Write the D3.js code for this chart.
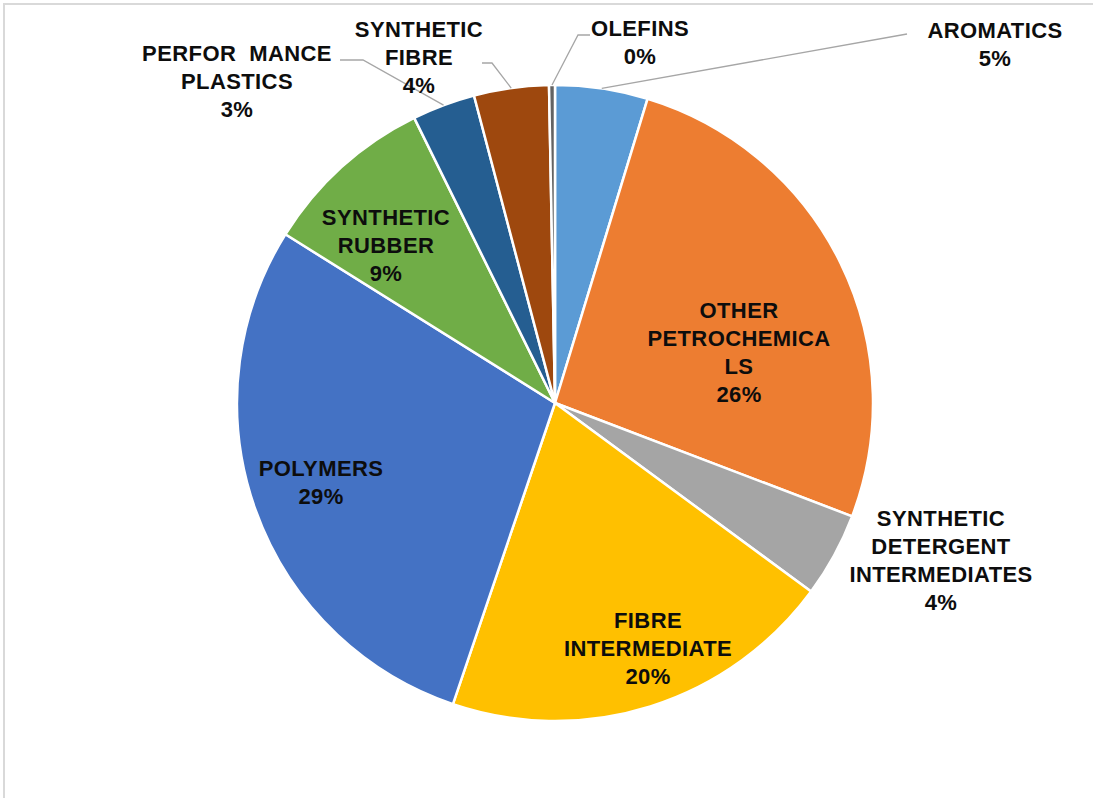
<!DOCTYPE html>
<html>
<head>
<meta charset="utf-8">
<script src="https://cdn.jsdelivr.net/npm/d3@7"></script>
<style>
  body { margin: 0; background: #fff; }
  svg text { font-family: "Liberation Sans", Arial, sans-serif; font-weight: bold; font-size: 22px; fill: #0d0d0d; }
</style>
</head>
<body>
<div id="chart"></div>
<script>
// share of petrochemical production, clockwise from 12 o'clock
const categories = ["AROMATICS", "OTHER PETROCHEMICALS", "SYNTHETIC DETERGENT INTERMEDIATES",
  "FIBRE INTERMEDIATE", "POLYMERS", "SYNTHETIC RUBBER", "PERFORMANCE PLASTICS",
  "SYNTHETIC FIBRE", "OLEFINS"];
const values = [4.7, 26.1, 4.3, 20.1, 28.7, 8.8, 3.2, 3.8, 0.3];
const percentLabels = ["5%", "26%", "4%", "20%", "29%", "9%", "3%", "4%", "0%"];
// label text as wrapped in the original
const labelLines = [
  ["AROMATICS"],
  ["OTHER", "PETROCHEMICA", "LS"],
  ["SYNTHETIC", "DETERGENT", "INTERMEDIATES"],
  ["FIBRE", "INTERMEDIATE"],
  ["POLYMERS"],
  ["SYNTHETIC", "RUBBER"],
  ["PERFOR  MANCE", "PLASTICS"],
  ["SYNTHETIC", "FIBRE"],
  ["OLEFINS"]
];

const colors = ["#5b9bd5", "#ed7d31", "#a5a5a5", "#ffc000", "#4472c4",
  "#70ad47", "#255e91", "#9e480e", "#636363"];

// layout: centre of each label block, and leader elbow (null = no leader)
const labelPos = [[995, 44], [739, 352], [941, 560], [648, 648], [321, 482],
  [386, 245], [237, 81], [419, 57], [640, 42]];
const leaderEnd = [[907, 34], null, null, null, null, null,
  [[340, 60], [363, 60]], [[482, 63], [492, 63]], [[590, 35], [578, 35]]];

const width = 1093, height = 798;
const cx = 555, cy = 403, r = 318;
const lineH = 28;

const svg = d3.select("#chart").append("svg")
  .attr("width", width).attr("height", height);

// chart frame
svg.append("rect")
  .attr("x", 4).attr("y", 4)
  .attr("width", width + 10).attr("height", height + 10)
  .attr("fill", "none").attr("stroke", "#d9d9d9").attr("stroke-width", 2);

const pie = d3.pie().sort(null).value(d => d)(values);
const arc = d3.arc().innerRadius(0).outerRadius(r);
const edge = d3.arc().innerRadius(r).outerRadius(r);

const g = svg.append("g").attr("transform", `translate(${cx},${cy})`);

g.selectAll("path.slice")
  .data(pie)
  .enter().append("path")
  .attr("class", "slice")
  .attr("d", arc)
  .attr("fill", (d, i) => colors[i])
  .attr("stroke", "#fff")
  .attr("stroke-width", 2.5)
  .attr("stroke-linejoin", "round");

// leader lines
pie.forEach((d, i) => {
  const e = leaderEnd[i];
  if (!e) return;
  const [sx, sy] = edge.centroid(d);
  let pts = [[cx + sx, cy + sy]];
  if (typeof e[0] === "number") pts.push(e);
  else pts = pts.concat(e.slice().reverse());
  svg.append("path")
    .attr("d", d3.line()(pts))
    .attr("fill", "none")
    .attr("stroke", "#a6a6a6")
    .attr("stroke-width", 1.3);
});

// labels
const labels = svg.selectAll("text.lbl")
  .data(categories)
  .enter().append("text")
  .attr("class", "lbl")
  .attr("text-anchor", "middle")
  .attr("letter-spacing", 0.4);

labels.each(function(d, i) {
  const lines = labelLines[i].concat([percentLabels[i]]);
  const [x, y] = labelPos[i];
  const top = y - (lines.length - 1) * lineH / 2;
  d3.select(this).selectAll("tspan")
    .data(lines)
    .enter().append("tspan")
    .attr("x", x)
    .attr("y", (t, k) => top + k * lineH)
    .attr("dy", "0.36em")
    .attr("xml:space", "preserve")
    .text(t => t);
});
</script>
</body>
</html>
